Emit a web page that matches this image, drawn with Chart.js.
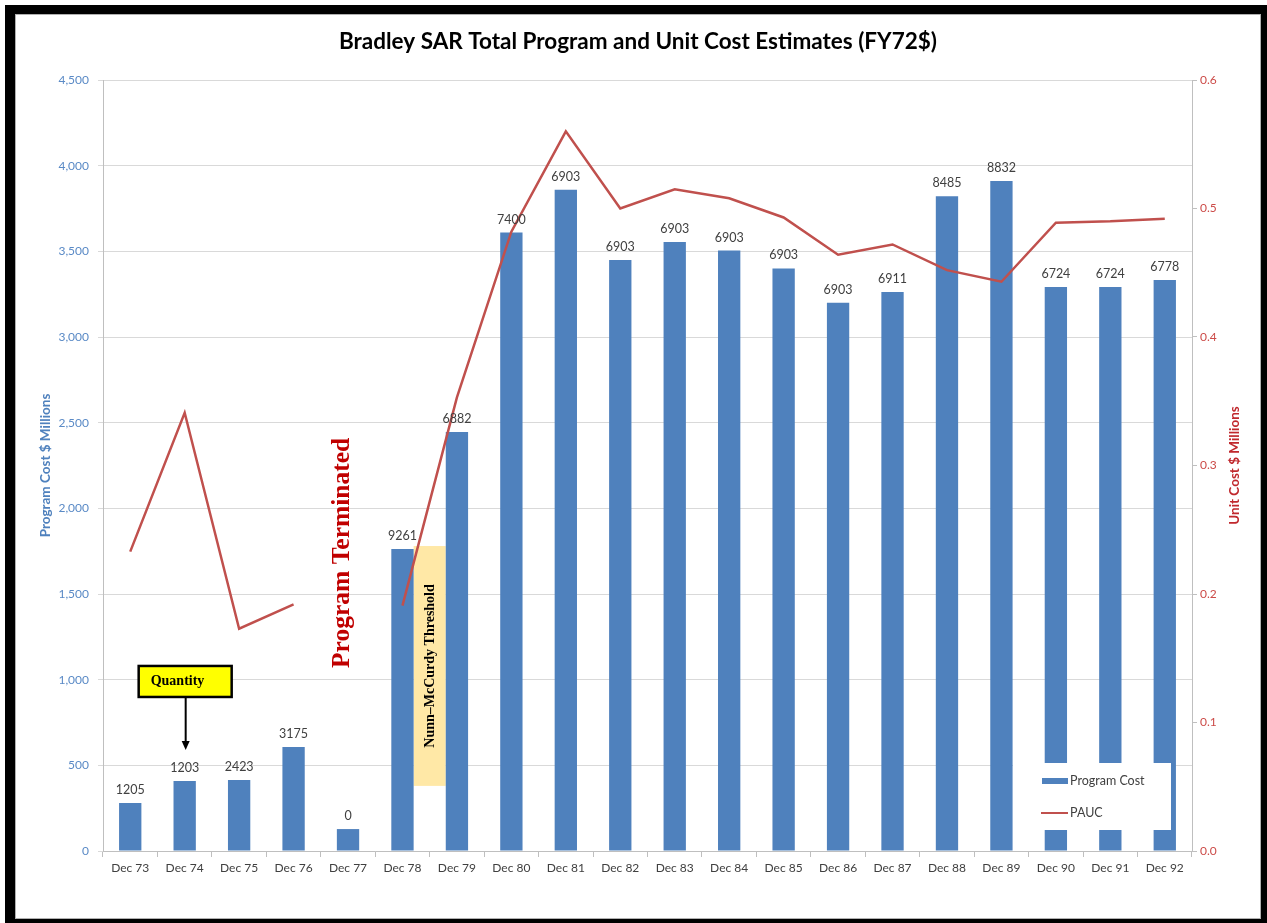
<!DOCTYPE html>
<html>
<head>
<meta charset="utf-8">
<title>Bradley SAR</title>
<script src="https://cdn.jsdelivr.net/npm/chart.js@4/dist/chart.umd.min.js"></script>
<style>
  body { margin: 0; background: #fff; }
  #frame { position: absolute; left: 5px; top: 5px; width: 1262px; height: 918px; background: #000; }
  #inner { position: absolute; left: 10px; top: 9px; width: 1246px; height: 905px; background: #fff; box-shadow: inset 0 0 0 1px #b0b0b0; }
  #myChart { position: absolute; left: 0; top: 0; }
</style>
</head>
<body>
<div id="frame"><div id="inner"><canvas id="myChart" width="1246" height="905"></canvas></div></div>
<script>
const years = ["Dec 73", "Dec 74", "Dec 75", "Dec 76", "Dec 77", "Dec 78", "Dec 79", "Dec 80", "Dec 81", "Dec 82",
  "Dec 83", "Dec 84", "Dec 85", "Dec 86", "Dec 87", "Dec 88", "Dec 89", "Dec 90", "Dec 91", "Dec 92"];
// program cost, $ millions (left axis)
const programCost = [280, 409, 415, 607, 128, 1763, 2446, 3610, 3860, 3450,
  3555, 3505, 3400, 3200, 3262, 3822, 3910, 3292, 3292, 3332];
// PAUC, unit cost $ millions (right axis); Dec 77 has no value
const pauc = [0.233, 0.341, 0.173, 0.192, null, 0.191, 0.353, 0.482, 0.560, 0.500,
  0.515, 0.508, 0.493, 0.464, 0.472, 0.452, 0.443, 0.489, 0.490, 0.492];
// quantity printed above each bar
const quantity = [1205, 1203, 2423, 3175, 0, 9261, 6882, 7400, 6903, 6903,
  6903, 6903, 6903, 6903, 6911, 8485, 8832, 6724, 6724, 6778];
const leftTicks = [0, 500, 1000, 1500, 2000, 2500, 3000, 3500, 4000, 4500];
const rightTicks = [0, 0.1, 0.2, 0.3, 0.4, 0.5, 0.6];

const blue = '#4F81BD';
const red = '#C0504D';

// yellow band, annotations, labels and the legend box
const extras = {
  id: 'extras',
  beforeDatasetsDraw(chart) {
    const ctx = chart.ctx;
    const y = chart.scales.y;
    const bars = chart.getDatasetMeta(0).data;
    // Nunn-McCurdy band between the Dec 78 and Dec 79 bars
    const x1 = bars[5].x + bars[5].width / 2;
    const x2 = bars[6].x - bars[6].width / 2;
    const top = y.getPixelForValue(1780);
    const bot = y.getPixelForValue(380);
    ctx.save();
    ctx.fillStyle = '#FFE8A6';
    ctx.fillRect(x1, top, x2 - x1, bot - top);
    ctx.translate((x1 + x2) / 2, (top + bot) / 2);
    ctx.rotate(-Math.PI / 2);
    ctx.fillStyle = '#000';
    ctx.font = 'bold 14px "Liberation Serif"';
    ctx.textAlign = 'center';
    ctx.textBaseline = 'middle';
    ctx.fillText('Nunn–McCurdy Threshold', 0, 1);
    ctx.restore();
  },
  afterDatasetsDraw(chart) {
    const ctx = chart.ctx;
    const x = chart.scales.x;
    const y = chart.scales.y;
    const area = chart.chartArea;
    const bars = chart.getDatasetMeta(0).data;

    // quantity labels
    ctx.save();
    ctx.font = '12.5px Lato';
    ctx.fillStyle = '#404040';
    ctx.textAlign = 'center';
    ctx.textBaseline = 'middle';
    bars.forEach(function (b, i) {
      ctx.fillText(String(quantity[i]), b.x, b.y - 13);
    });

    // Program Terminated
    ctx.save();
    ctx.translate(x.getPixelForValue(4) - 6, y.getPixelForValue(1740));
    ctx.rotate(-Math.PI / 2);
    ctx.font = 'bold 25.5px "Liberation Serif"';
    ctx.fillStyle = '#C00000';
    ctx.fillText('Program Terminated', 0, 0);
    ctx.restore();

    // Quantity callout
    const qx = x.getPixelForValue(1);
    const qTop = y.getPixelForValue(1080);
    const qBot = y.getPixelForValue(899);
    ctx.fillStyle = '#FFFF00';
    ctx.fillRect(qx - 46, qTop, 93, qBot - qTop);
    ctx.lineWidth = 2.5;
    ctx.strokeStyle = '#000';
    ctx.strokeRect(qx - 46, qTop, 93, qBot - qTop);
    ctx.fillStyle = '#000';
    ctx.font = 'bold 14px "Liberation Serif"';
    ctx.textAlign = 'left';
    ctx.fillText('Quantity', qx - 34, (qTop + qBot) / 2);
    const tip = y.getPixelForValue(590);
    ctx.lineWidth = 2;
    ctx.beginPath();
    ctx.moveTo(qx + 1, qBot);
    ctx.lineTo(qx + 1, tip - 6);
    ctx.stroke();
    ctx.beginPath();
    ctx.moveTo(qx + 1, tip);
    ctx.lineTo(qx - 3, tip - 9);
    ctx.lineTo(qx + 5, tip - 9);
    ctx.closePath();
    ctx.fill();

    // legend box over the last bars
    const lx = area.right - 179;
    const ly = area.bottom - 88;
    ctx.fillStyle = '#fff';
    ctx.fillRect(lx, ly, 158, 67);
    ctx.fillStyle = blue;
    ctx.fillRect(lx + 29, ly + 15, 26, 6);
    ctx.strokeStyle = red;
    ctx.lineWidth = 2;
    ctx.beginPath();
    ctx.moveTo(lx + 28, ly + 50);
    ctx.lineTo(lx + 55, ly + 50);
    ctx.stroke();
    ctx.fillStyle = '#404040';
    ctx.font = '12.5px Lato';
    ctx.fillText('Program Cost', lx + 57, ly + 18);
    ctx.fillText('PAUC', lx + 57, ly + 50);

    // right axis title, reading bottom to top
    ctx.translate(area.right + 43, (area.top + area.bottom) / 2);
    ctx.rotate(-Math.PI / 2);
    ctx.font = 'bold 13.5px Lato';
    ctx.fillStyle = '#C0282D';
    ctx.textAlign = 'center';
    ctx.fillText('Unit Cost $ Millions', 0, 0);
    ctx.restore();
  }
};

function drawChart() {
  new Chart("myChart", {
    data: {
      labels: years,
      datasets: [{
        type: 'bar',
        label: 'Program Cost',
        data: programCost,
        backgroundColor: blue,
        yAxisID: 'y',
        barPercentage: 0.41,
        categoryPercentage: 1,
        order: 2
      }, {
        type: 'line',
        label: 'PAUC',
        data: pauc,
        borderColor: red,
        borderWidth: 2.5,
        pointRadius: 0,
        tension: 0,
        spanGaps: false,
        yAxisID: 'y1',
        order: 1
      }]
    },
    options: {
      responsive: false,
      animation: false,
      layout: { padding: 0 },
      plugins: {
        legend: { display: false },
        tooltip: { enabled: false },
        title: {
          display: true,
          text: 'Bradley SAR Total Program and Unit Cost Estimates (FY72$)',
          color: '#000',
          font: { family: 'Lato', size: 22.5, weight: 'bold' },
          padding: { top: 14.5, bottom: 24.5 }
        }
      },
      scales: {
        x: {
          grid: { drawOnChartArea: false, tickLength: 6, offset: true, color: '#bfbfbf' },
          border: { color: '#bfbfbf' },
          ticks: { color: '#404040', font: { family: 'Lato', size: 12 }, padding: 4, maxRotation: 0 },
          afterFit(s) { s.height = 68; }
        },
        y: {
          position: 'left',
          min: 0,
          max: 4500,
          afterBuildTicks(s) { s.ticks = leftTicks.map(function (v) { return { value: v }; }); },
          ticks: {
            color: '#5A8AC6',
            font: { family: 'Lato', size: 12 },
            padding: 9,
            callback: function (v) { return v.toLocaleString('en-US'); }
          },
          grid: { color: '#d9d9d9', tickLength: 5 },
          border: { color: '#bfbfbf' },
          title: {
            display: true,
            text: 'Program Cost $ Millions',
            color: '#4F81BD',
            font: { family: 'Lato', size: 13.5, weight: 'bold' },
            padding: { top: 23, bottom: 4 }
          },
          afterFit(s) { s.width = 88; }
        },
        y1: {
          position: 'right',
          min: 0,
          max: 0.6,
          afterBuildTicks(s) { s.ticks = rightTicks.map(function (v) { return { value: v }; }); },
          ticks: {
            color: '#CC4B48',
            font: { family: 'Lato', size: 12 },
            padding: 3,
            callback: function (v) { return v.toFixed(1); }
          },
          grid: { drawOnChartArea: false, tickLength: 5, color: '#bfbfbf' },
          border: { color: '#bfbfbf' },
          afterFit(s) { s.width = 69; }
        }
      }
    },
    plugins: [extras]
  });
}

Promise.all([
  document.fonts.load('12px Lato'),
  document.fonts.load('bold 20px Lato'),
  document.fonts.load('bold 26px "Liberation Serif"')
]).then(drawChart, drawChart);
</script>
</body>
</html>
